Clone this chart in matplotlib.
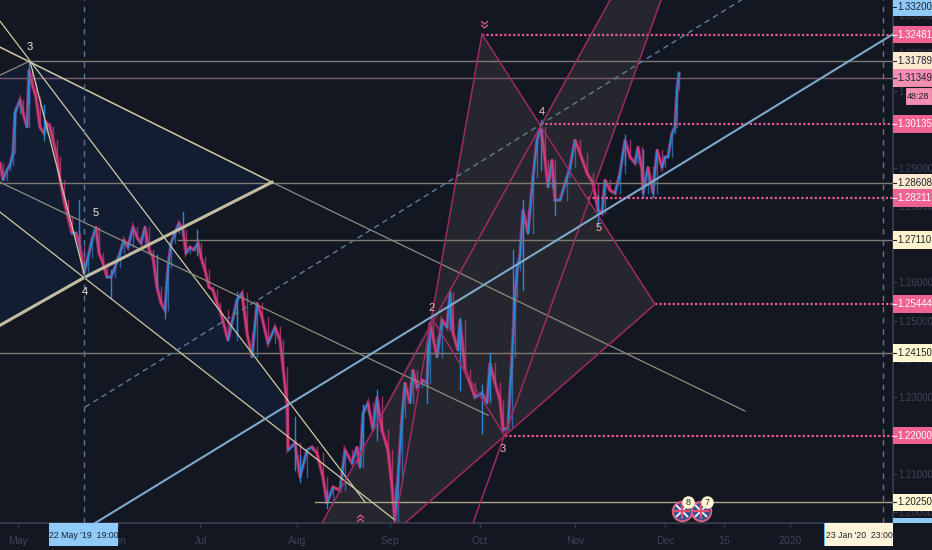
import matplotlib
matplotlib.use("Agg")
import matplotlib.pyplot as plt
from matplotlib.patches import Polygon, Rectangle

# bars, x is the position along the time scale
bar_x = [0, 3, 7, 10, 13, 15, 20, 23, 27, 29, 32, 36, 40, 44, 47, 50, 53, 57, 60, 64, 68, 72, 76, 80, 84, 88, 92, 96, 99,
         103, 107, 111, 115, 120, 124, 128, 133, 137, 141, 145, 149, 153, 157, 161, 165, 168, 171, 175, 179, 183, 186,
         190, 194, 198, 201, 205, 209, 213, 217, 220, 228, 237, 242, 247, 252, 257, 262, 268, 275, 280, 283, 287, 288,
         295, 300, 307, 312, 317, 323, 327, 333, 340, 345, 352, 357, 360, 363, 368, 373, 377, 382, 388, 392, 395, 398,
         402, 405, 410, 413, 417, 422, 427, 430, 433, 437, 442, 447, 450, 453, 458, 460, 465, 470, 475, 482, 487, 490,
         495, 500, 503, 508, 512, 515, 517, 520, 523, 528, 533, 537, 541, 545, 548, 552, 555, 560, 567, 570, 575, 580,
         587, 593, 598, 602, 605, 610, 615, 620, 625, 630, 635, 638, 642, 643, 648, 653, 657, 662, 665, 668, 672, 675,
         677, 679]
bar_close = [1.2912, 1.2868, 1.2894, 1.2907, 1.2938, 1.3043, 1.3077, 1.3043, 1.3006, 1.3155, 1.3121, 1.3084, 1.3006,
             1.2990, 1.3016, 1.3006, 1.2972, 1.2928, 1.2868, 1.2815, 1.2771, 1.2729, 1.2729, 1.2692, 1.2624, 1.2666,
             1.2711, 1.2745, 1.2677, 1.2651, 1.2614, 1.2614, 1.2640, 1.2677, 1.2711, 1.2692, 1.2745, 1.2718, 1.2703,
             1.2745, 1.2685, 1.2666, 1.2588, 1.2546, 1.2528, 1.2640, 1.2703, 1.2729, 1.2755, 1.2737, 1.2677, 1.2692,
             1.2685, 1.2703, 1.2666, 1.2632, 1.2588, 1.2580, 1.2546, 1.2528, 1.2449, 1.2554, 1.2572, 1.2468, 1.2405,
             1.2546, 1.2509, 1.2441, 1.2483, 1.2449, 1.2379, 1.2285, 1.2162, 1.2180, 1.2091, 1.2162, 1.2170, 1.2154,
             1.2091, 1.2023, 1.2065, 1.2057, 1.2162, 1.2128, 1.2170, 1.2117, 1.2258, 1.2285, 1.2214, 1.2300, 1.2214,
             1.2162, 1.2065, 1.1973, 1.2091, 1.2248, 1.2337, 1.2285, 1.2371, 1.2326, 1.2345, 1.2337, 1.2494, 1.2457,
             1.2405, 1.2502, 1.2483, 1.2572, 1.2468, 1.2423, 1.2502, 1.2371, 1.2337, 1.2300, 1.2311, 1.2285, 1.2389,
             1.2337, 1.2292, 1.2214, 1.2222, 1.2405, 1.2562, 1.2632, 1.2671, 1.2789, 1.2729, 1.2875, 1.2972, 1.3006,
             1.2920, 1.2849, 1.2920, 1.2815, 1.2815, 1.2875, 1.2901, 1.2972, 1.2938, 1.2886, 1.2860, 1.2789, 1.2781,
             1.2868, 1.2841, 1.2833, 1.2886, 1.2972, 1.2928, 1.2912, 1.2954, 1.2894, 1.2833, 1.2901, 1.2833, 1.2946,
             1.2901, 1.2928, 1.2928, 1.2990, 1.3006, 1.3103, 1.3147]

# the longer wicks
wick_x = [15, 29, 44, 79, 111, 157, 165, 183, 197, 237, 295, 300, 327, 363, 377, 427, 450, 460, 482, 490, 513, 523,
          541, 555, 598, 625, 643, 653]
wick_high = [1.3056, 1.3179, 1.3063, 1.2815, 1.2632, 1.2671, 1.2554, 1.2784, 1.2737, 1.2575, 1.2248, 1.2149, 1.2057,
             1.2279, 1.2319, 1.2449, 1.2580, 1.2507, 1.2332, 1.2415, 1.2685, 1.2815, 1.3024, 1.2868, 1.2828, 1.2985,
             1.2946, 1.2868]
wick_low = [1.3011, 1.3069, 1.2972, 1.2685, 1.2559, 1.2580, 1.2507, 1.2724, 1.2671, 1.2462, 1.2109, 1.2078, 1.2010,
            1.2162, 1.2188, 1.2285, 1.2475, 1.2319, 1.2206, 1.2292, 1.2502, 1.2580, 1.2894, 1.2776, 1.2750, 1.2907,
            1.2823, 1.2823]

# drawn levels
gray_levels = [1.31789, 1.28608, 1.27110, 1.24150, 1.20250]
gray_starts = [30, 0, 178, 0, 315]
gray_colors = ["#7d7b72", "#7d7b72", "#7d7b72", "#7d7b72", "#a8a486"]
dotted_levels = [1.32481, 1.30135, 1.28211, 1.25444, 1.22000]
dotted_starts = [482, 541, 588, 655, 505]
last_price = 1.31349

# trend lines as (x0, price0, x1, price1)
thin_yellow = [(0, 1.3283, 365, 1.2026), (0, 1.2784, 395, 1.1979), (30, 1.3179, 85, 1.2614)]
thin_gray = [(0, 1.2862, 488, 1.2253), (0, 1.3142, 30, 1.3179), (272, 1.2862, 745, 1.2264)]
bright_line = (0, 1.3215, 272, 1.2862)
thick_line = [(0, 85, 272), (1.2488, 1.2614, 1.2862)]
blue_line = (95, 1.1971, 893, 1.3249)
dash_line = (85, 1.2274, 751, 1.3354)
pink_lines = [(322, 1.1971, 610, 1.3338), (395, 1.1971, 482, 1.3249), (482, 1.3249, 655, 1.2543),
              (655, 1.2543, 405, 1.1971), (473, 1.1971, 661, 1.3338), (432, 1.2507, 505, 1.2198)]

blue_areas = [[(0, 1.3142), (30, 1.3179), (272, 1.2862), (85, 1.2614), (0, 1.2488)],
              [(30, 1.3179), (288, 1.2285), (288, 1.2198), (85, 1.2614)]]
gray_areas = [[(482, 1.3249), (655, 1.2544), (505, 1.2200), (432, 1.2507)],
              [(541, 1.3014), (610, 1.3338), (661, 1.3338), (589, 1.2815)],
              [(322, 1.1971), (432, 1.2507), (505, 1.2200), (405, 1.1971)]]

wave_labels = ["3", "5", "4", "2", "3", "4", "5"]
wave_x = [30, 96, 85, 432, 503, 542, 599]
wave_price = [1.3215, 1.2781, 1.2575, 1.2533, 1.2165, 1.3045, 1.2742]
wave_colors = ["#f3efe0", "#f3efe0", "#f3efe0", "#f5b7b1", "#f5b7b1", "#f5b7b1", "#f5b7b1"]

# price scale
price_ticks = [1.33, 1.32, 1.31, 1.30, 1.29, 1.28, 1.27, 1.26, 1.25, 1.24, 1.23, 1.21, 1.20]
tag_prices = [1.33200, 1.32481, 1.31789, 1.31349, 1.30135, 1.28608, 1.28211, 1.27110, 1.25444, 1.24150, 1.22000, 1.20250]
tag_fill = ["#90caf9", "#f06292", "#ffe8d0", "#f48fb1", "#f06292", "#ffe8d0", "#f06292", "#fff3cd", "#f06292", "#fff8d0",
            "#f06292", "#fff8d0"]
tag_text = ["#1c2430", "white", "#1c2430", "#1c2430", "white", "#1c2430", "white", "#1c2430", "white", "#1c2430", "white",
            "#1c2430"]

# time scale
time_ticks = [18, 118, 200, 297, 390, 480, 575, 665, 724, 790]
time_labels = ["May", "Jun", "Jul", "Aug", "Sep", "Oct", "Nov", "Dec", "16", "2020"]

BG = "#131722"
UP = "#2a86d6"
DOWN = "#d8397c"

plt.rcParams["font.family"] = ["Liberation Sans", "DejaVu Sans"]
fig = plt.figure(figsize=(9.32, 5.5), dpi=100, facecolor=BG)
ax = fig.add_axes([0, 27 / 550, 893 / 932, 523 / 550], facecolor=BG)
ax.set_xlim(0, 893)
ax.set_ylim(1.19713, 1.33383)


def seg(item, **kw):
    ax.plot([item[0], item[2]], [item[1], item[3]], **kw)


for area in blue_areas:
    ax.add_patch(Polygon(area, closed=True, fc="#131d32", ec="none", zorder=1))
for area in gray_areas:
    ax.add_patch(Polygon(area, closed=True, fc="#26262f", ec="none", zorder=1))

# candles, each bar runs from the previous close to its close
ax.plot(bar_x, bar_close, color=DOWN, lw=2.6, alpha=0.55, zorder=2, solid_joinstyle="miter")
for i in range(1, len(bar_x)):
    o = bar_close[i - 1]
    c = bar_close[i]
    col = UP if c >= o else DOWN
    ax.plot([bar_x[i - 1], bar_x[i]], [o, c], color=col, lw=1.3, zorder=2.1)
    ax.plot([bar_x[i], bar_x[i]], [o, c], color=col, lw=1, alpha=0.7, zorder=2.1)
for x, hi, lo in zip(wick_x, wick_high, wick_low):
    ax.plot([x, x], [lo, hi], color=UP, lw=1, zorder=2.2)

# levels
for level, start, col in zip(gray_levels, gray_starts, gray_colors):
    ax.plot([start, 893], [level, level], color=col, lw=1, zorder=3)
ax.plot([0, 893], [last_price, last_price], color="#7d5a72", lw=1, zorder=3)
for level, start in zip(dotted_levels, dotted_starts):
    ax.plot([start, 893], [level, level], color="#ee5a92", lw=1.6, ls=(0, (1, 1)), zorder=3)

for item in thin_yellow:
    seg(item, color="#d0c9a4", lw=0.9, zorder=3)
for item in thin_gray:
    seg(item, color="#8f8c7c", lw=0.9, zorder=3)
seg(bright_line, color="#d0c9a4", lw=1.1, zorder=3)
ax.plot(thick_line[0], thick_line[1], color="#c2bda0", lw=2.2, zorder=3)
for item in pink_lines:
    seg(item, color="#a02a62", lw=1.1, zorder=3)
seg(blue_line, color="#7fa9c9", lw=1.5, zorder=3.5)
seg(dash_line, color="#5d7e9c", lw=1, ls=(0, (4, 3)), zorder=3)

ax.axvline(84, color="#4f7ba3", lw=1, ls=(0, (4, 4)), zorder=3)
ax.axvline(883, color="#6f7278", lw=1, ls=(0, (4, 4)), zorder=3)

for label, x, p, col in zip(wave_labels, wave_x, wave_price, wave_colors):
    ax.text(x, p, label, color=col, fontsize=8, ha="center", va="center", zorder=5)
ax.text(483, 1.3277, "\u00bb", color="#ee5a92", fontsize=12, rotation=-90, ha="center", va="center", zorder=5)
ax.text(361, 1.1985, "\u00bb", color="#ee5a92", fontsize=12, rotation=90, ha="center", va="center", zorder=5)

# calendar flags
for x, num in zip([682, 701], ["8", "7"]):
    ax.plot([x], [1.2003], marker="o", ms=14, mfc="#30508f", mec="#d9607f", mew=1.5, zorder=6)
    ax.plot([x], [1.2003], marker="x", ms=8, mec="#f4f0f0", mew=1.4, zorder=6.1)
    ax.plot([x], [1.2003], marker="+", ms=11, mec="#e0506f", mew=1.6, zorder=6.2)
    ax.plot([x + 6], [1.2025], marker="o", ms=9, mfc="#fff8d0", mec="none", zorder=6.3)
    ax.text(x + 6, 1.2025, num, color="#1c2430", fontsize=6.5, ha="center", va="center", zorder=6.4)

# axes
for side in ["top", "left"]:
    ax.spines[side].set_visible(False)
for side in ["right", "bottom"]:
    ax.spines[side].set_color("#3b3f4c")
    ax.spines[side].set_linewidth(1.2)
ax.yaxis.tick_right()
ax.set_yticks(price_ticks)
ax.set_yticklabels([f"{p:.5f}" for p in price_ticks])
ax.tick_params(axis="y", colors="#3b3f4c", labelcolor="#3f4450", labelsize=7, length=3, pad=1)
ax.set_xticks(time_ticks)
ax.set_xticklabels(time_labels)
ax.tick_params(axis="x", colors="#3b3f4c", labelcolor="#3f4450", labelsize=7.5, length=3, pad=6)

# price tags
for p, fill, tc in zip(tag_prices, tag_fill, tag_text):
    ax.add_patch(Rectangle((893, p - 0.0023), 39, 0.0046, fc=fill, ec="none", clip_on=False, zorder=8))
    ax.plot([893, 896], [p, p], color=tc, lw=0.8, clip_on=False, zorder=9)
    ax.text(897, p, f"{p:.5f}", color=tc, fontsize=7, ha="left", va="center", zorder=9, clip_on=False)
ax.add_patch(Rectangle((893, 1.1972), 39, 0.0012, fc="#90caf9", ec="none", clip_on=False, zorder=8))
ax.add_patch(Rectangle((905, 1.3063), 27, 0.0047, fc="#f48fb1", ec="#131722", lw=0.8, clip_on=False, zorder=8))
ax.text(918.5, 1.30865, "48:28", color="#1c2430", fontsize=6.5, ha="center", va="center", clip_on=False, zorder=9)

# time tags
trans = ax.get_xaxis_transform()
ax.add_patch(Rectangle((49, -0.044), 69, 0.044, transform=trans, fc="#90caf9", ec="none", clip_on=False, zorder=8))
ax.text(83.5, -0.023, "22 May '19  19:00", transform=trans, color="#1c2430", fontsize=6.3, ha="center", va="center",
        clip_on=False, zorder=9)
ax.add_patch(Rectangle((824, -0.044), 69, 0.044, transform=trans, fc="#fff3d9", ec="none", clip_on=False, zorder=8))
ax.add_patch(Rectangle((824, -0.044), 1.2, 0.044, transform=trans, fc="#64b5f6", ec="none", clip_on=False, zorder=8.5))
ax.text(859, -0.023, "23 Jan '20  23:00", transform=trans, color="#1c2430", fontsize=6.3, ha="center", va="center",
        clip_on=False, zorder=9)

fig.savefig("out.png", dpi=100, facecolor=BG)
